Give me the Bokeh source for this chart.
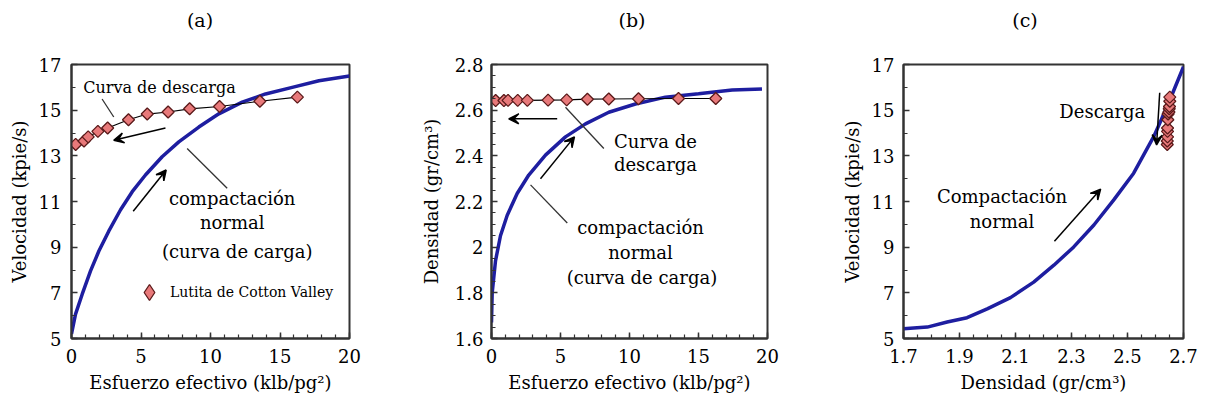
import numpy as np
from bokeh.plotting import figure
from bokeh.layouts import row, column
from bokeh.models import FixedTicker, Arrow, VeeHead, Legend, LegendItem, Range1d, Div
from bokeh.core.properties import value
from bokeh.embed import file_html
from bokeh.resources import INLINE

FONT = "DejaVu Serif"

# ---------------- data ----------------
# unloading measurements (Cotton Valley shale)
stress_pts = [0.3, 0.9, 1.2, 1.9, 2.6, 4.1, 5.45, 6.95, 8.5, 10.65, 13.55, 16.25]
vel_pts = [13.5, 13.65, 13.83, 14.07, 14.22, 14.58, 14.83, 14.92, 15.06, 15.16, 15.39, 15.57]
dens_pts = [2.642, 2.642, 2.643, 2.643, 2.643, 2.644, 2.645, 2.648, 2.649, 2.650, 2.651, 2.651]

# normal compaction (loading) curves
stress_load_a = [0, 0.29, 0.77, 1.37, 1.97, 2.68, 3.53, 4.37, 5.32, 6.52, 7.72, 9.16, 10.6,
                 12.28, 13.96, 15.88, 17.8, 20.0]
vel_load_a = [5.2, 6.07, 6.94, 7.96, 8.83, 9.70, 10.64, 11.43, 12.16, 12.96, 13.61, 14.26, 14.84,
              15.35, 15.71, 16.0, 16.29, 16.5]

stress_load_b = [0, 0.05, 0.29, 0.65, 1.14, 1.86, 2.7, 3.91, 5.36, 6.81, 8.5, 10.43, 12.6, 15.0,
                 17.44, 19.6]
dens_load_b = [1.67, 1.80, 1.94, 2.05, 2.14, 2.235, 2.316, 2.403, 2.483, 2.54, 2.591, 2.627,
               2.657, 2.672, 2.688, 2.693]

dens_load_c = [1.70, 1.785, 1.856, 1.927, 1.999, 2.082, 2.165, 2.237, 2.308, 2.38, 2.451, 2.522,
               2.594, 2.642, 2.70]
vel_load_c = [5.43, 5.50, 5.72, 5.91, 6.30, 6.79, 7.47, 8.21, 9.01, 9.97, 11.07, 12.24, 13.85,
              15.17, 16.9]

# ticks
vel_ticks = [5, 7, 9, 11, 13, 15, 17]
vel_minor = list(range(5, 18))
stress_ticks = [0, 5, 10, 15, 20]
stress_minor = list(range(0, 21))
dens_ticks_b = [1.6, 1.8, 2.0, 2.2, 2.4, 2.6, 2.8]
dens_labels_b = ["1.6", "1.8", "2", "2.2", "2.4", "2.6", "2.8"]
dens_minor_b = [round(1.6 + 0.05 * i, 2) for i in range(25)]
dens_ticks_c = [1.7, 1.9, 2.1, 2.3, 2.5, 2.7]
dens_labels_c = ["1.7", "1.9", "2.1", "2.3", "2.5", "2.7"]
dens_minor_c = [round(1.7 + 0.05 * i, 2) for i in range(21)]

titles = ["(a)", "(b)", "(c)"]
legend_label = "Lutita de Cotton Valley"

BLUE = "#1e1ea0"
PT_FILL = "#e8797a"
PT_LINE = "#5a1a1a"
TITLE_H = 40
FIG_H = 406 - TITLE_H


def make_fig(width, left, top, frame_w, xr, yr, xlabel, ylabel):
    p = figure(width=width, height=FIG_H, x_range=Range1d(*xr), y_range=Range1d(*yr),
               output_backend="svg", toolbar_location=None,
               min_border_left=left, min_border_right=width - left - frame_w,
               min_border_top=top, min_border_bottom=406 - 338)
    p.grid.visible = False
    p.outline_line_color = "#333333"
    p.outline_line_width = 2
    p.outline_line_alpha = 1
    p.background_fill_color = "white"
    p.border_fill_color = "white"
    for ax in (p.xaxis[0], p.yaxis[0]):
        ax.axis_line_color = "#333333"
        ax.axis_line_width = 2
        ax.major_tick_in = 6
        ax.major_tick_out = 0
        ax.minor_tick_in = 4
        ax.minor_tick_out = 0
        ax.major_tick_line_color = "#333333"
        ax.minor_tick_line_color = "#333333"
        ax.major_tick_line_width = 1.5
        ax.minor_tick_line_width = 1.2
        ax.major_label_text_font = FONT
        ax.major_label_text_font_size = "18px"
        ax.major_label_text_color = "black"
        ax.axis_label_text_font = FONT
        ax.axis_label_text_font_size = "18px"
        ax.axis_label_text_font_style = "normal"
        ax.axis_label_text_color = "black"
    p.xaxis[0].axis_label = xlabel
    p.yaxis[0].axis_label = ylabel
    p.xaxis[0].major_label_standoff = 10
    p.yaxis[0].major_label_standoff = 10
    p.xaxis[0].axis_label_standoff = 6
    p.yaxis[0].axis_label_standoff = 6
    return p


def add_text(p, x, y, t, size="18px"):
    p.text(x=[x], y=[y], text=[t], text_font=value(FONT), text_font_size=size,
           text_align="center", text_baseline="middle", text_color="black")


def add_arrow(p, x0, y0, x1, y1):
    p.add_layout(Arrow(end=VeeHead(size=10, line_color="black", fill_color="black", line_width=1.5),
                       x_start=x0, y_start=y0, x_end=x1, y_end=y1,
                       line_color="black", line_width=1.5))


def add_leader(p, x0, y0, x1, y1):
    p.segment(x0=[x0], y0=[y0], x1=[x1], y1=[y1], line_color="#333333", line_width=1.3)


def title_div(text, width):
    return Div(text=text, width=width, height=TITLE_H, margin=0,
               styles={"font-family": FONT, "font-size": "19px", "text-align": "center",
                       "line-height": "%dpx" % TITLE_H, "color": "black"})


# ---------------- panel (a) ----------------
pa = make_fig(400, 71, 62 - TITLE_H, 278, (0, 20), (5, 17),
              "Esfuerzo efectivo (klb/pg²)", "Velocidad (kpie/s)")
pa.xaxis[0].ticker = FixedTicker(ticks=stress_ticks, minor_ticks=stress_minor)
pa.yaxis[0].ticker = FixedTicker(ticks=vel_ticks, minor_ticks=vel_minor)
pa.line(stress_load_a, vel_load_a, line_color=BLUE, line_width=3.5)
pa.line(stress_pts, vel_pts, line_color="black", line_width=1.2)
# diamond renderer (hidden under the rotated squares) supplies the legend key shape
key = pa.scatter(stress_pts, vel_pts, marker="diamond", size=10,
                 fill_color=PT_FILL, line_color=PT_LINE, line_width=1.3)
pa.scatter(stress_pts, vel_pts, marker="square", angle=np.pi / 4, size=8.5,
           fill_color=PT_FILL, line_color=PT_LINE, line_width=1.3)
add_text(pa, 6.33, 16.0, "Curva de descarga", "16px")
add_leader(pa, 2.2, 15.49, 3.04, 14.7)
add_arrow(pa, 6.76, 14.22, 3.04, 13.68)
add_arrow(pa, 4.44, 10.57, 6.81, 12.38)
add_leader(pa, 8.32, 13.32, 11.2, 11.58)
add_text(pa, 11.56, 11.14, "compactación")
add_text(pa, 11.56, 10.06, "normal")
add_text(pa, 11.92, 8.83, "(curva de carga)")
leg = Legend(items=[LegendItem(label=legend_label, renderers=[key])],
             location=(58, 26), border_line_color=None, background_fill_alpha=0,
             padding=0, margin=0, spacing=0, glyph_width=40, glyph_height=40,
             label_standoff=1, label_height=40, label_text_font=FONT,
             label_text_font_size="14px", label_text_color="black")
pa.add_layout(leg)

# ---------------- panel (b) ----------------
pb = make_fig(400, 91, 62 - TITLE_H, 276, (0, 20), (1.6, 2.8),
              "Esfuerzo efectivo (klb/pg²)", "Densidad (gr/cm³)")
pb.xaxis[0].ticker = FixedTicker(ticks=stress_ticks, minor_ticks=stress_minor)
pb.yaxis[0].ticker = FixedTicker(ticks=dens_ticks_b, minor_ticks=dens_minor_b)
pb.yaxis[0].major_label_overrides = dict(zip(dens_ticks_b, dens_labels_b))
pb.yaxis[0].major_label_standoff = 8
pb.yaxis[0].axis_label_standoff = 10
pb.line(stress_load_b, dens_load_b, line_color=BLUE, line_width=3.5)
pb.line(stress_pts, dens_pts, line_color="black", line_width=1.2)
pb.scatter(stress_pts, dens_pts, marker="square", angle=np.pi / 4, size=8.5,
           fill_color=PT_FILL, line_color=PT_LINE, line_width=1.3)
add_arrow(pb, 4.76, 2.562, 1.25, 2.562)
add_leader(pb, 5.36, 2.613, 8.14, 2.432)
add_text(pb, 11.88, 2.464, "Curva de")
add_text(pb, 11.88, 2.36, "descarga")
add_arrow(pb, 3.55, 2.30, 6.01, 2.483)
add_leader(pb, 2.83, 2.273, 5.49, 2.106)
add_text(pb, 10.8, 2.084, "compactación")
add_text(pb, 10.8, 1.975, "normal")
add_text(pb, 10.9, 1.867, "(curva de carga)")

# ---------------- panel (c) ----------------
pc = make_fig(405, 103, 64 - TITLE_H, 280, (1.7, 2.7), (5, 17),
              "Densidad (gr/cm³)", "Velocidad (kpie/s)")
pc.xaxis[0].ticker = FixedTicker(ticks=dens_ticks_c, minor_ticks=dens_minor_c)
pc.xaxis[0].major_label_overrides = dict(zip(dens_ticks_c, dens_labels_c))
pc.yaxis[0].ticker = FixedTicker(ticks=vel_ticks, minor_ticks=vel_minor)
pc.yaxis[0].major_label_standoff = 9
pc.line(dens_load_c, vel_load_c, line_color=BLUE, line_width=3.5)
pc.line(dens_pts, vel_pts, line_color="black", line_width=1)
pc.scatter(dens_pts, vel_pts, marker="square", angle=np.pi / 4, size=8.5,
           fill_color=PT_FILL, line_color=PT_LINE, line_width=1.3)
add_text(pc, 2.41, 14.95, "Descarga")
add_arrow(pc, 2.615, 15.76, 2.604, 13.48)
add_text(pc, 2.052, 11.21, "Compactación")
add_text(pc, 2.052, 10.11, "normal")
add_arrow(pc, 2.239, 9.26, 2.404, 11.54)

titles_row = row(title_div(titles[0], 400), title_div(titles[1], 464), title_div(titles[2], 322))
layout = column(titles_row, row(pa, pb, pc))
open("out.html", "w").write(file_html(layout, INLINE))
